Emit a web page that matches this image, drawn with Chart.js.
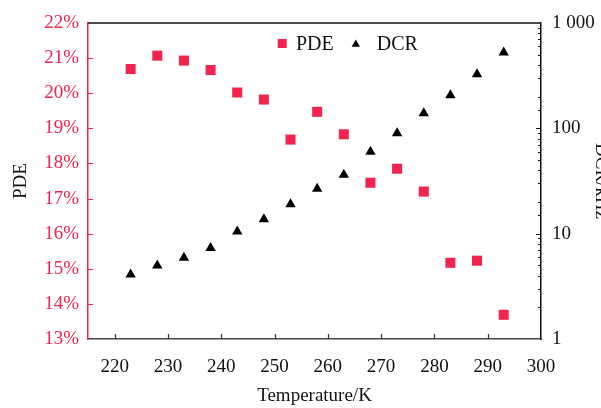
<!DOCTYPE html>
<html>
<head>
<meta charset="utf-8">
<script src="https://cdn.jsdelivr.net/npm/chart.js@4/dist/chart.umd.min.js"></script>
<style>
html,body{margin:0;padding:0;background:#fff;overflow:hidden;}
#wrap{width:601px;height:408px;overflow:hidden;position:relative;}
canvas{display:block;}
</style>
</head>
<body>
<div id="wrap"><canvas id="c" width="616" height="408"></canvas></div>
<script>
// ---- data ----
const temperatures = [223, 228, 233, 238, 243, 248, 253, 258, 263, 268, 273, 278, 283, 288, 293];
const pdeValues = [20.69, 21.07, 20.93, 20.66, 20.02, 19.82, 18.68, 19.47, 18.83, 17.45, 17.85, 17.20, 15.17, 15.23, 13.69];
const dcrValues = [4.1, 5.0, 5.9, 7.3, 10.5, 13.7, 19.0, 26.7, 36.3, 60, 90, 139, 206, 326, 524];
const seriesLabels = ['PDE', 'DCR'];
const axisTitles = { x: 'Temperature/K', yLeft: 'PDE', yRight: 'DCR/kHz' };
const dcrTickLabels = { 1: '1', 10: '10', 100: '100', 1000: '1 000' };

const RED = '#f0244f';
const FONT = "'Liberation Serif', 'Times New Roman', serif";

const innerTicks = {
  id: 'innerTicks',
  afterDraw(chart) {
    const ctx = chart.ctx, a = chart.chartArea;
    const xs = chart.scales.x, yl = chart.scales.yPDE, yr = chart.scales.yDCR;
    ctx.save();
    ctx.lineWidth = 1.2;
    ctx.strokeStyle = '#333';
    ctx.beginPath();
    xs.ticks.forEach(t => {
      if (t.value <= xs.min || t.value >= xs.max) return;
      const px = Math.round(xs.getPixelForValue(t.value)) + 0.5;
      ctx.moveTo(px, a.bottom); ctx.lineTo(px, a.bottom - 5);
    });
    ctx.stroke();
    ctx.strokeStyle = RED;
    ctx.beginPath();
    yl.ticks.forEach(t => {
      if (t.value <= yl.min || t.value >= yl.max) return;
      const py = Math.round(yl.getPixelForValue(t.value)) + 0.5;
      ctx.moveTo(a.left, py); ctx.lineTo(a.left + 5, py);
    });
    ctx.stroke();
    ctx.strokeStyle = '#111';
    ctx.beginPath();
    yr.ticks.forEach(t => {
      if (t.value <= yr.min || t.value >= yr.max) return;
      const lg = Math.log10(t.value);
      const major = Math.abs(lg - Math.round(lg)) < 1e-9;
      const py = Math.round(yr.getPixelForValue(t.value)) + 0.5;
      ctx.moveTo(a.right, py); ctx.lineTo(a.right - (major ? 5 : 3), py);
    });
    ctx.stroke();
    // top frame
    ctx.strokeStyle = '#111';
    ctx.lineWidth = 1.5;
    ctx.beginPath();
    ctx.moveTo(a.left, a.top); ctx.lineTo(a.right, a.top);
    ctx.stroke();
    ctx.restore();
  }
};

const customLegend = {
  id: 'customLegend',
  afterDraw(chart) {
    const ctx = chart.ctx;
    const ds = chart.data.datasets;
    ctx.save();
    ctx.font = '20px ' + FONT;
    ctx.textBaseline = 'alphabetic';
    ctx.fillStyle = ds[0].backgroundColor;
    ctx.fillRect(277.7, 39, 9, 9);
    ctx.fillStyle = '#111';
    ctx.fillText(ds[0].label, 296, 49.5);
    ctx.fillStyle = ds[1].backgroundColor;
    const cx = 355.8, cy = 44.4, r = 4.8;
    ctx.beginPath();
    ctx.moveTo(cx, cy - r);
    ctx.lineTo(cx + r * 0.866, cy + r / 2);
    ctx.lineTo(cx - r * 0.866, cy + r / 2);
    ctx.closePath();
    ctx.fill();
    ctx.fillStyle = '#111';
    ctx.fillText(ds[1].label, 376.7, 49.5);
    ctx.restore();
  }
};

new Chart(document.getElementById('c'), {
  type: 'scatter',
  data: {
    datasets: [
      {
        label: seriesLabels[0],
        data: temperatures.map((t, i) => ({ x: t, y: pdeValues[i] })),
        yAxisID: 'yPDE',
        backgroundColor: RED,
        borderColor: RED,
        pointStyle: 'rect',
        pointRadius: 7.1,
        pointBorderWidth: 0
      },
      {
        label: seriesLabels[1],
        data: temperatures.map((t, i) => ({ x: t, y: dcrValues[i] })),
        yAxisID: 'yDCR',
        backgroundColor: '#000',
        borderColor: '#000',
        pointStyle: 'triangle',
        pointRadius: 6,
        pointBorderWidth: 0
      }
    ]
  },
  options: {
    responsive: false,
    animation: false,
    layout: { padding: { top: 23, left: 0, right: 0, bottom: 0 } },
    plugins: { legend: { display: false }, tooltip: { enabled: false } },
    scales: {
      x: {
        type: 'linear',
        position: 'bottom',
        min: 215, max: 300,
        grid: { display: true, drawOnChartArea: false, drawTicks: false },
        border: { display: true, color: '#444', width: 1.5 },
        ticks: {
          stepSize: 10, includeBounds: false, maxRotation: 0, autoSkip: false,
          padding: 17, color: '#111', font: { family: FONT, size: 19 }
        },
        title: { display: true, text: axisTitles.x, color: '#111', font: { family: FONT, size: 19 }, padding: { top: 1, bottom: 1 } },
        afterFit(s) { s.height = 69; }
      },
      yPDE: {
        type: 'linear',
        position: 'left',
        min: 13, max: 22,
        grid: { display: true, drawOnChartArea: false, drawTicks: false },
        border: { display: true, color: RED, width: 1.5 },
        ticks: {
          stepSize: 1, autoSkip: false, padding: 9, color: RED,
          font: { family: FONT, size: 19 },
          callback: v => v + '%'
        },
        title: { display: true, text: axisTitles.yLeft, color: '#111', font: { family: FONT, size: 19 }, padding: { top: 10, bottom: 0 } },
        afterFit(s) { s.width = 88; }
      },
      yDCR: {
        type: 'logarithmic',
        position: 'right',
        min: 1, max: 1000,
        grid: { display: true, drawOnChartArea: false, drawTicks: false },
        border: { display: true, color: '#111', width: 1.5 },
        ticks: {
          autoSkip: false, padding: 11, color: '#111',
          font: { family: FONT, size: 19 },
          callback: v => (dcrTickLabels[v] !== undefined ? dcrTickLabels[v] : '')
        },
        title: { display: true, text: axisTitles.yRight, color: '#111', font: { family: FONT, size: 19 }, padding: { top: 4, bottom: 0 } },
        afterFit(s) { s.width = 75; }
      }
    }
  },
  plugins: [innerTicks, customLegend]
});
</script>
</body>
</html>
